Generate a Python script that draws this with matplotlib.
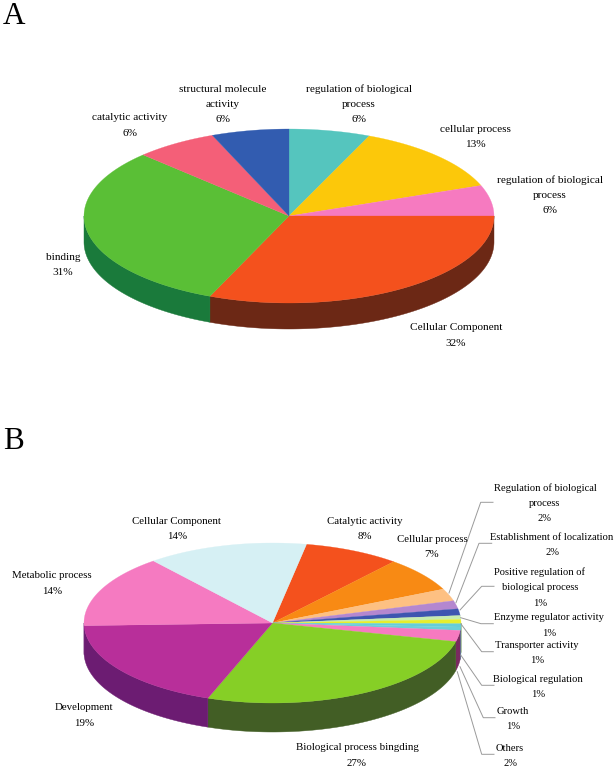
import numpy as np
import matplotlib
matplotlib.use("Agg")
import matplotlib.pyplot as plt

plt.rcParams['font.family'] = ['Liberation Serif', 'DejaVu Serif']

# ---- data: panel A (clockwise from 12 o'clock); slice shares
a_labels = ["regulation of biological\nprocess\n6%", "cellular process\n13%",
            "regulation of biological\nprocess\n6%", "Cellular Component\n32%",
            "binding\n31%", "catalytic activity\n6%",
            "structural molecule\nactivity\n6%"]
a_values = [6.4, 12.9, 5.7, 31.3, 31.1, 6.5, 6.1]
a_colors = ["#55c5be", "#fcc80a", "#f67ac0", "#f4511d", "#5abf36", "#f45f78", "#325cb0"]
a_sides = ["#2f7f7a", "#8f7206", "#8a3f6c", "#6c2815", "#1a7a3b", "#8f3644", "#1c3566"]
a_label_xy = [(359, 88), (475, 128), (550, 179), (456, 327), (63, 256), (130, 117), (223, 88)]

# ---- data: panel B (clockwise, first slice starts just right of 12 o'clock)
b_labels = ["Catalytic activity\n8%", "Cellular process\n7%",
            "Regulation of biological\nprocess\n2%", "Establishment of localization\n2%",
            "Positive regulation of\nbiological process\n1%", "Enzyme regulator activity\n1%",
            "Transporter activity\n1%", "Biological regulation\n1%", "Growth\n1%", "Others\n2%",
            "Biological process bingding\n27%", "Development\n19%",
            "Metabolic process\n14%", "Cellular Component\n14%"]
b_values = [8.3, 7.0, 2.5, 1.67, 1.36, 0.78, 0.86, 0.68, 0.68, 2.28, 27.1, 19.1, 14.8, 13.9]
b_colors = ["#f4511d", "#f88a14", "#fdc082", "#b487cf", "#3d55b0", "#c6ecb0", "#e6ee2e",
            "#66cdd8", "#6ccfd8", "#f67ac0", "#86cf26", "#b82f9a", "#f57ac1", "#d6f0f4"]
b_sides = ["#7a2a10", "#84480a", "#8a6a48", "#5f476e", "#222f60", "#6c8060", "#7c8018",
           "#55c0cc", "#50b0c0", "#7a2a60", "#425e25", "#6c1c72", "#6c1c72", "#728286"]
b_label_xy = [(365, 520), (432, 538), (545, 487), (552, 536), (540, 571.5), (549, 617),
              (537, 644.5), (538, 678), (513, 710.5), (510, 747.5), (357, 747), (84, 707),
              (52, 575), (177, 520)]
b_label_right = {2, 3, 4, 5, 6, 7, 8, 9}

# ---- layout
PANEL_A = dict(cx=289, cy=216, rx=205, ry=87, depth=26, start=0)
PANEL_B = dict(cx=272.5, cy=623, rx=188.5, ry=80, depth=29, start=10.4)
LEADERS_B = [
    [(449, 593), (480.7, 502.3), (493, 502.3)],
    [(456, 602.7), (479, 543.3), (491.7, 543.3)],
    [(460, 610), (481.7, 586.3), (494, 586.3)],
    [(460.7, 617.7), (481, 623.7), (493.3, 623.7)],
    [(461, 624), (481.7, 651.7), (493.3, 651.7)],
    [(460.7, 655), (481.7, 685.3), (494, 685.3)],
    [(460, 666.7), (483.3, 717.7), (495, 717.7)],
    [(457.3, 671.7), (481.7, 754.3), (494, 754.3)],
]
FONT_A = 8.1
FONT_B = 7.8
FONT_B_RIGHT = 7.55
PITCH = 15.3
LABEL_DY = 1.0

fig = plt.figure(figsize=(6.16, 7.69), dpi=100)
ax = fig.add_axes([0, 0, 1, 1])
ax.set_xlim(0, 616)
ax.set_ylim(769, 0)
ax.axis("off")


def arc(p, a, b):
    t = np.radians(np.linspace(a, b, max(2, int(abs(b - a) * 2) + 2)))
    return p["cx"] + p["rx"] * np.sin(t), p["cy"] - p["ry"] * np.cos(t)


def draw_pie(p, values, colors, sides):
    v = np.asarray(values, float)
    edges = p["start"] + np.concatenate([[0], np.cumsum(v) / v.sum() * 360])
    # side wall: only the front half of the rim (90..270 degrees) can be seen
    for a, b, c in zip(edges[:-1], edges[1:], sides):
        lo, hi = max(a, 90), min(b, 270)
        if hi <= lo:
            continue
        x, y = arc(p, lo, hi)
        ax.fill(np.r_[x, x[::-1]], np.r_[y, y[::-1] + p["depth"]],
                facecolor=c, edgecolor=c, linewidth=0.3, zorder=2)
    for a, b, c in zip(edges[:-1], edges[1:], colors):
        x, y = arc(p, a, b)
        ax.fill(np.r_[p["cx"], x], np.r_[p["cy"], y],
                facecolor=c, edgecolor=c, linewidth=0.2, zorder=3)


def draw_label(s, x, y, size):
    for i, line in enumerate(s.split("\n")):
        ax.text(x, y + LABEL_DY + i * PITCH, line, ha="center", va="center",
                fontsize=size, color="black", zorder=6)


draw_pie(PANEL_A, a_values, a_colors, a_sides)
draw_pie(PANEL_B, b_values, b_colors, b_sides)
for s, (x, y) in zip(a_labels, a_label_xy):
    draw_label(s, x, y, FONT_A)
for i, (s, (x, y)) in enumerate(zip(b_labels, b_label_xy)):
    draw_label(s, x, y, FONT_B_RIGHT if i in b_label_right else FONT_B)

for pts in LEADERS_B:
    xs, ys = zip(*pts)
    ax.plot(xs, ys, color="#9a9a9a", lw=0.7, zorder=5, solid_joinstyle="miter")

ax.text(3, 23.5, "A", fontsize=22.5, ha="left", va="baseline", color="black")
ax.text(3, 449, "B", fontsize=22.5, ha="left", va="baseline", color="black")

fig.savefig("out.png", dpi=100, facecolor="white")
